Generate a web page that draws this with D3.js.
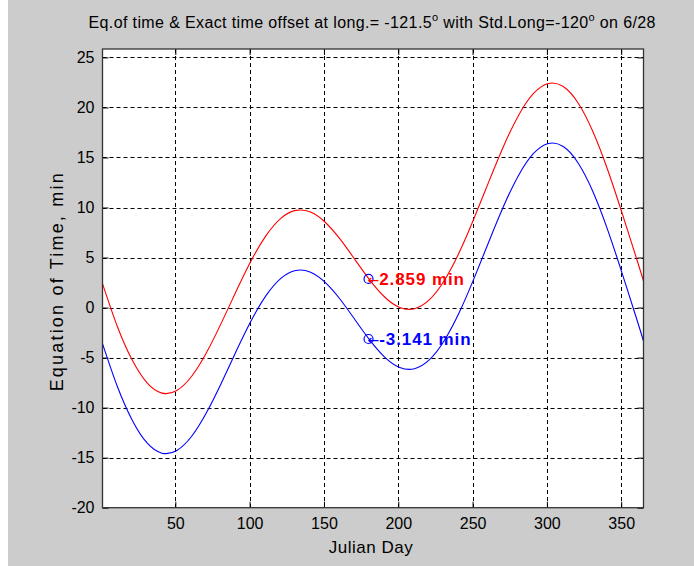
<!DOCTYPE html>
<html><head><meta charset="utf-8">
<script src="https://cdn.jsdelivr.net/npm/d3@7"></script>
<style>html,body{margin:0;padding:0;background:#fff;}svg{display:block;}</style>
</head><body>
<svg id="c" width="694" height="566"></svg>
<script>
// Data
const days = [1, 11, 21, 31, 41, 51, 61, 71, 81, 91, 101, 111, 121, 131, 141, 151, 161, 171, 181, 191, 201, 211, 221, 231, 241, 251, 261, 271, 281, 291, 301, 311, 321, 331, 341, 351, 361, 365];
const exactOffset = [2.40, -1.89, -5.25, -7.53, -8.55, -8.28, -6.86, -4.49, -1.53, 1.65, 4.68, 7.19, 8.92, 9.71, 9.54, 8.50, 6.81, 4.76, 2.72, 1.03, 0.01, -0.11, 0.79, 2.71, 5.50, 8.92, 12.61, 16.18, 19.23, 21.40, 22.40, 22.09, 20.45, 17.57, 13.72, 9.25, 4.58, 2.65];
const eqOfTime = [-3.60, -7.89, -11.25, -13.53, -14.55, -14.28, -12.86, -10.49, -7.53, -4.35, -1.32, 1.19, 2.92, 3.71, 3.54, 2.50, 0.81, -1.24, -3.28, -4.97, -5.99, -6.11, -5.21, -3.29, -0.50, 2.92, 6.61, 10.18, 13.23, 15.40, 16.40, 16.09, 14.45, 11.57, 7.72, 3.25, -1.42, -3.35];
const markDay = 180;
const markValues = [2.859, -3.141];
const markLabels = ["2.859 min", "-3.141 min"];
const xTicks = [50, 100, 150, 200, 250, 300, 350];
const yTicks = [-20, -15, -10, -5, 0, 5, 10, 15, 20, 25];
const titleParts = ["Eq.of time & Exact time offset at long.= -121.5", "o", " with Std.Long=-120", "o", " on 6/28"];

const svg = d3.select("#c");
const font = "Liberation Sans, Arial, Helvetica, sans-serif";
svg.append("rect").attr("x", 8).attr("y", 0).attr("width", 686).attr("height", 566).attr("fill", "#cccccc");

const L = 102.5, R = 643.5, T = 49, B = 507.7;
const x = d3.scaleLinear().domain([1, 365]).range([L, R]);
const y = d3.scaleLinear().domain([-20, 25.84]).range([B, T]);

svg.append("rect").attr("x", L).attr("y", T).attr("width", R - L).attr("height", B - T).attr("fill", "#fff");

const g = svg.append("g");
// grid
g.selectAll(".gx").data(xTicks).enter().append("line")
  .attr("x1", d => Math.round(x(d)) + 0.5).attr("x2", d => Math.round(x(d)) + 0.5)
  .attr("y1", T).attr("y2", B).attr("stroke", "#000").attr("stroke-width", 1).attr("stroke-dasharray", "4,3");
g.selectAll(".gy").data(yTicks.filter(d => d > -20)).enter().append("line")
  .attr("y1", d => Math.round(y(d)) + 0.5).attr("y2", d => Math.round(y(d)) + 0.5)
  .attr("x1", L).attr("x2", R).attr("stroke", "#000").attr("stroke-width", 1).attr("stroke-dasharray", "4,3");

// axes with D3
const tl = 6;
const fmt = d => String(d);
const axL = d3.axisLeft(y).tickValues(yTicks).tickSize(-tl).tickPadding(8).tickFormat(fmt);
const axB = d3.axisBottom(x).tickValues(xTicks).tickSize(-tl).tickPadding(10).tickFormat(fmt);
const axR = d3.axisRight(y).tickValues(yTicks).tickSize(-tl).tickFormat("");
const axT = d3.axisTop(x).tickValues(xTicks).tickSize(-tl).tickFormat("");
function style(sel) {
  sel.selectAll("path").attr("stroke", "none");
  sel.selectAll("line").attr("stroke", "#000");
  sel.selectAll("text").attr("fill", "#000").style("font-family", font).style("font-size", "16px");
}
svg.append("g").attr("transform", `translate(${L},0)`).call(axL).call(style);
svg.append("g").attr("transform", `translate(0,${B})`).call(axB).call(style);
svg.append("g").attr("transform", `translate(${R},0)`).call(axR).call(style);
svg.append("g").attr("transform", `translate(0,${T})`).call(axT).call(style);

// curves
const line = d3.line().x((d, i) => x(days[i])).y(d => y(d)).curve(d3.curveNatural);
svg.append("path").attr("d", line(exactOffset)).attr("fill", "none").attr("stroke", "#ff0000").attr("stroke-width", 1.1);
svg.append("path").attr("d", line(eqOfTime)).attr("fill", "none").attr("stroke", "#0000ff").attr("stroke-width", 1.1);

// box
svg.append("rect").attr("x", L).attr("y", T).attr("width", R - L).attr("height", B - T)
  .attr("fill", "none").attr("stroke", "#333").attr("stroke-width", 1.3);

// markers & labels
const labColors = ["#ff0000", "#0000ff"];
markValues.forEach((v, i) => {
  svg.append("circle").attr("cx", x(markDay)).attr("cy", y(v)).attr("r", 4.5)
    .attr("fill", "none").attr("stroke", "#0000ff").attr("stroke-width", 1.2);
  const t = svg.append("text").attr("x", x(markDay) - 1).attr("y", y(v)).attr("dy", "0.36em")
    .style("font-family", font).style("font-size", "17px").style("font-weight", "bold")
    .attr("fill", labColors[i]);
  t.append("tspan").style("font-family", "DejaVu Sans").style("font-weight", "normal").style("font-size", "14px").text("\u2190");
  t.append("tspan").style("letter-spacing", "0.9px").text(markLabels[i]);
});

// title
const tt = svg.append("text").attr("x", (L + R) / 2 - 1).attr("y", 28).attr("text-anchor", "middle")
  .style("font-family", font).style("font-size", "16px").attr("fill", "#000")
  .attr("textLength", 567).attr("lengthAdjust", "spacing");
titleParts.forEach((p, i) => {
  const s = tt.append("tspan").text(p);
  if (i % 2 === 1) s.attr("dy", -7).style("font-size", "11px");
  else if (i > 0) s.attr("dy", 7);
});

// axis labels
svg.append("text").attr("x", (L + R) / 2 - 2).attr("y", 553).attr("text-anchor", "middle")
  .style("font-family", font).style("font-size", "17px").style("letter-spacing", "0.5px").text("Julian Day");
svg.append("text").attr("transform", `translate(63,${(T + B) / 2 + 4}) rotate(-90)`).attr("text-anchor", "middle")
  .style("font-family", font).style("font-size", "18px")
  .attr("textLength", 218).attr("lengthAdjust", "spacing").text("Equation of Time, min");
</script>
</body></html>
